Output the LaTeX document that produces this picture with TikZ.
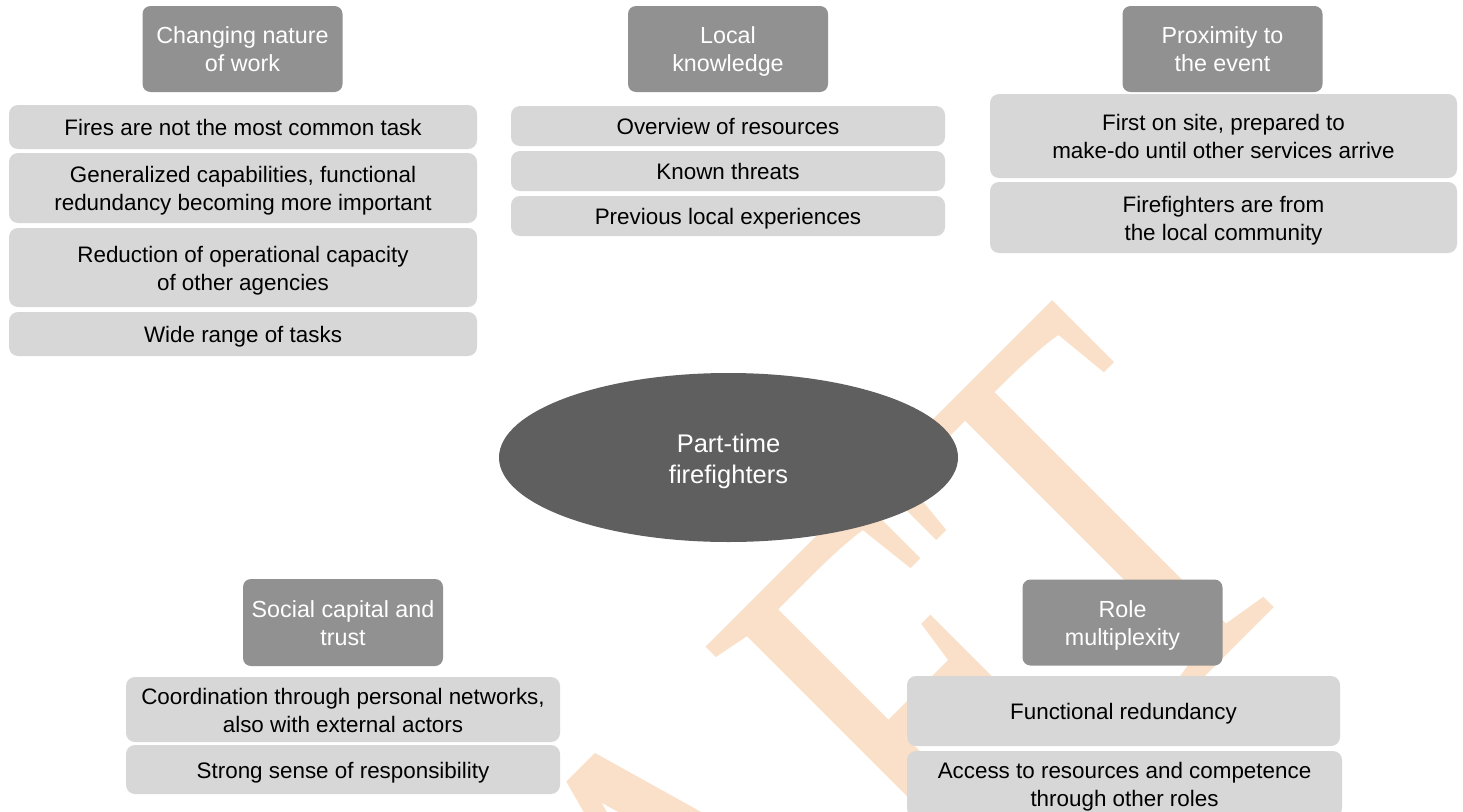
\documentclass[tikz,border=0pt]{standalone}
\usepackage{fontspec}
\setmainfont{Liberation Sans}
\newfontfamily\wmfont{Liberation Serif}
\usepackage{graphicx}
\usetikzlibrary{shapes.geometric}
\definecolor{hdr}{RGB}{145,145,145}
\definecolor{lite}{RGB}{215,215,215}
\definecolor{core}{RGB}{95,95,95}
\definecolor{wmark}{RGB}{250,224,200}
\newcommand\sv{\rule[-5pt]{0pt}{27pt}}
\newcommand\se{\rule[-4.5pt]{0pt}{30pt}}
\begin{document}
\begin{tikzpicture}[x=1pt,y=-1pt,
  every node/.style={inner sep=0pt, outer sep=0pt, align=center},
  header/.style={fill=hdr, text=white, rounded corners=8pt,
    minimum width=200pt, minimum height=86pt,
    font=\fontsize{23.3}{28}\selectfont},
  itembox/.style={fill=lite, text=black, rounded corners=9pt,
    font=\fontsize{22.4}{26.9}\selectfont},
  corebox/.style={ellipse, fill=core, text=white,
    font=\fontsize{25.5}{31}\selectfont},
]
\clip (0,0) rectangle (1463,811);
\fill[white] (0,0) rectangle (1463,811);

% watermark
\node[anchor=base east, rotate=45, text=wmark] (wm) at (1322,560)
  {\wmfont\fontsize{420}{420}\selectfont\scalebox{1.04}[1.36]{DRAFT}};

% centre
\node[corebox, minimum width=459pt, minimum height=169pt] (core) at (728.5,457.5)
  {\se Part-time\\ firefighters\se};

% column 1
\node[header] (h1) at (242.5,49) {\sv Changing nature\\ of work\sv};
\node[itembox, minimum width=468pt, minimum height=44pt] (a1) at (243,127)
  {\sv Fires are not the most common task\sv};
\node[itembox, minimum width=468pt, minimum height=70pt] (a2) at (243,188)
  {\sv Generalized capabilities, functional\\ redundancy becoming more important\sv};
\node[itembox, minimum width=468pt, minimum height=79pt] (a3) at (243,267.5)
  {\sv Reduction of operational capacity\\ of other agencies\sv};
\node[itembox, minimum width=468pt, minimum height=44pt] (a4) at (243,334)
  {\sv Wide range of tasks\sv};

% column 2
\node[header] (h2) at (728,49) {\sv Local\\ knowledge\sv};
\node[itembox, minimum width=434pt, minimum height=40pt] (b1) at (728,126)
  {\sv Overview of resources\sv};
\node[itembox, minimum width=434pt, minimum height=40pt] (b2) at (728,171)
  {\sv Known threats\sv};
\node[itembox, minimum width=434pt, minimum height=40pt] (b3) at (728,216)
  {\sv Previous local experiences\sv};

% column 3
\node[header] (h3) at (1222.5,49) {\sv Proximity to\\ the event\sv};
\node[itembox, minimum width=467pt, minimum height=84pt] (c1) at (1223.5,136)
  {\sv First on site, prepared to\\ make-do until other services arrive\sv};
\node[itembox, minimum width=467pt, minimum height=71pt] (c2) at (1223.5,217.5)
  {\sv Firefighters are from\\ the local community\sv};

% bottom left
\node[header, minimum height=87pt] (h4) at (343,622.5) {\sv Social capital and\\ trust\sv};
\node[itembox, minimum width=434pt, minimum height=65pt] (d1) at (343,709.5)
  {\sv Coordination through personal networks,\\ also with external actors\sv};
\node[itembox, minimum width=434pt, minimum height=49pt] (d2) at (343,769.5)
  {\sv Strong sense of responsibility\sv};

% bottom right
\node[header] (h5) at (1122.5,622.5) {\sv Role\\ multiplexity\sv};
\node[itembox, minimum width=433pt, minimum height=70pt] (e1) at (1123.5,711)
  {\sv Functional redundancy\sv};
\node[itembox, minimum width=435pt, minimum height=66pt] (e2) at (1124.5,784)
  {\sv Access to resources and competence\\ through other roles\sv};
\end{tikzpicture}
\end{document}
